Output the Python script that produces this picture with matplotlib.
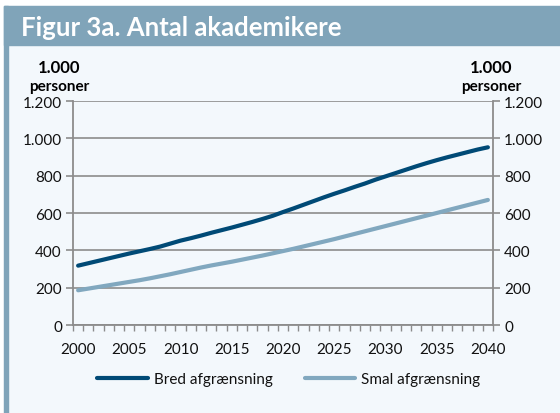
import matplotlib
matplotlib.use('Agg')
from matplotlib import pyplot as plt
from matplotlib.patches import Rectangle
from matplotlib.ticker import FuncFormatter, MultipleLocator
import numpy as np

years = list(range(2000, 2041))
bred = [318, 331, 344, 357, 370, 383, 395, 407, 420, 436,
        452, 465, 479, 494, 508, 522, 537, 552, 568, 585,
        605, 624, 644, 664, 684, 703, 721, 740, 758, 778,
        796, 814, 832, 850, 867, 883, 898, 912, 926, 940, 952]
smal = [186, 195, 204, 213, 222, 231, 240, 250, 261, 272,
        284, 296, 308, 319, 329, 339, 350, 361, 372, 384,
        396, 408, 421, 434, 447, 460, 474, 488, 502, 516,
        530, 544, 558, 572, 586, 600, 614, 628, 642, 656, 670]
series_labels = ['Bred afgrænsning', 'Smal afgrænsning']
title = 'Figur 3a. Antal akademikere'
unit = '1.000'
unit2 = 'personer'

plt.rcParams['font.family'] = ['Lato', 'DejaVu Sans']

W, H = 560, 414
fig = plt.figure(figsize=(W / 100, H / 100), dpi=100, facecolor='white')

# background panel, title bar and left strip
bar_col = '#80a4b9'
fig.patches.append(Rectangle((4 / W, 0), 1, 1 - 7 / H, transform=fig.transFigure,
                             color='#f3f8fc', zorder=-3))
fig.patches.append(Rectangle((4 / W, 1 - 46 / H), 1, 39 / H, transform=fig.transFigure,
                             color=bar_col, zorder=-2))
fig.patches.append(Rectangle((4 / W, 0), 4 / W, 1 - 7 / H, transform=fig.transFigure,
                             color=bar_col, zorder=-2))
fig.text(21 / W, 1 - 36 / H, title, color='white', fontsize=18.5, fontweight='bold',
         va='baseline', ha='left')

ax = fig.add_axes([73 / W, 1 - 326 / H, 420 / W, 224 / H])
ax.set_zorder(5)
ax.patch.set_alpha(0)

dark = '#004a76'
light = '#81a8bf'
ax.plot(years, bred, color=dark, lw=3.0, solid_capstyle='round', label=series_labels[0], zorder=3)
ax.plot(years, smal, color=light, lw=3.0, solid_capstyle='round', label=series_labels[1], zorder=3)

ax.set_xlim(1999.5, 2040.5)
ax.set_ylim(0, 1200)
ax.set_yticks(np.arange(0, 1201, 200))
ax.yaxis.set_major_formatter(FuncFormatter(lambda v, p: f'{int(v):,}'.replace(',', '.')))
ax.set_xticks(list(range(2000, 2041, 5)))
ax.xaxis.set_minor_locator(MultipleLocator(1, offset=0.5))

grid_col = '#8c8c8c'
ax.grid(axis='y', color=grid_col, lw=1.2, zorder=1)
for s in ['left', 'right', 'bottom']:
    ax.spines[s].set_color(grid_col)
    ax.spines[s].set_linewidth(1.3)
ax.spines['top'].set_visible(False)

ax.tick_params(axis='y', which='major', left=True, right=True, labelleft=True, labelright=True,
               length=5, width=1.2, color=grid_col, labelsize=11, pad=3, labelcolor='#111111')
ax.tick_params(axis='x', which='major', length=0, labelsize=11, pad=12, labelcolor='#111111')
ax.tick_params(axis='x', which='minor', length=4, width=1.0, color=grid_col, direction='out')

for xp in (59, 491):
    fig.text(xp / W, 1 - 68 / H, unit, ha='center', va='center', fontsize=12, fontweight='bold')
    fig.text(xp / W, 1 - 87 / H, unit2, ha='center', va='center', fontsize=11, fontweight='bold')

leg = fig.legend(loc='center', bbox_to_anchor=(0.5 + 9 / W, 1 - 380 / H), ncol=2, frameon=False,
                 fontsize=11, handlelength=3.3, handletextpad=0.4, columnspacing=2.1)
for t in leg.get_texts():
    t.set_color('#111111')

fig.savefig('out.png', dpi=100, facecolor=fig.get_facecolor())
